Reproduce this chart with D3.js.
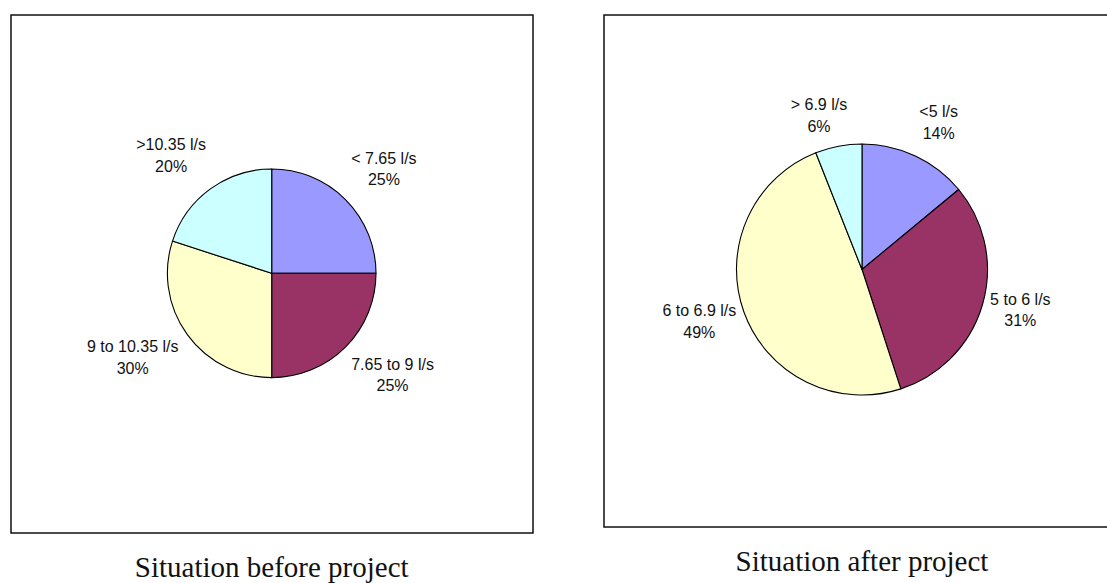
<!DOCTYPE html>
<html>
<head>
<meta charset="utf-8">
<script src="https://cdn.jsdelivr.net/npm/d3@7"></script>
<style>
  html, body { margin: 0; padding: 0; background: #ffffff; }
  svg { display: block; }
</style>
</head>
<body>
<svg id="chart" width="1107" height="583"></svg>
<script>
// Flow-rate distribution before and after the project
const beforeCategories = ["< 7.65 l/s", "7.65 to 9 l/s", "9 to 10.35 l/s", ">10.35 l/s"];
const beforeValues = [25, 25, 30, 20];

const afterCategories = ["<5 l/s", "5 to 6 l/s", "6 to 6.9 l/s", "> 6.9 l/s"];
const afterValues = [14, 31, 49, 6];

const sliceColors = ["#9999FF", "#993366", "#FFFFCC", "#CCFFFF"];
const titles = ["Situation before project", "Situation after project"];

const svg = d3.select("#chart");

// layout of the two panels; labelShift fine-tunes each data label around its slice
const panels = [
  { categories: beforeCategories, values: beforeValues, title: titles[0],
    box: { x: 11, y: 15, w: 522, h: 518 }, cx: 271.7, cy: 273.3, r: 104.3, labelR: 126, titleY: 577,
    labelShift: [[0, -3], [2.5, 0.5], [0, 0], [-6, -2]] },
  { categories: afterCategories, values: afterValues, title: titles[1],
    box: { x: 604, y: 15, w: 510, h: 512 }, cx: 862, cy: 269.5, r: 125.5, labelR: 136, titleY: 571,
    labelShift: [[10.5, -8.5], [-1.3, -2.2], [0, 0], [-12.3, -3.4]] }
];

const pie = d3.pie().sort(null).value(d => d.value);
const color = d3.scaleOrdinal().range(sliceColors);

const labelFont = "'Liberation Sans', Arial, sans-serif";
const labelSize = 16;
const lineGap = 21.5;

// measure helper for label text widths
const measureCtx = document.createElement("canvas").getContext("2d");
measureCtx.font = `${labelSize}px ${labelFont}`;

panels.forEach(p => {
  const data = p.categories.map((c, i) => ({ category: c, value: p.values[i] }));
  color.domain(p.categories);

  // plot area frame
  svg.append("rect")
    .attr("x", p.box.x).attr("y", p.box.y)
    .attr("width", p.box.w).attr("height", p.box.h)
    .attr("fill", "#ffffff")
    .attr("stroke", "#111111")
    .attr("stroke-width", 1.5);

  const g = svg.append("g").attr("transform", `translate(${p.cx},${p.cy})`);
  const arc = d3.arc().innerRadius(0).outerRadius(p.r);
  const arcs = pie(data);

  g.selectAll("path.slice")
    .data(arcs)
    .enter().append("path")
    .attr("class", "slice")
    .attr("d", arc)
    .attr("fill", d => color(d.data.category))
    .attr("stroke", "#000000")
    .attr("stroke-width", 1.1)
    .attr("stroke-linejoin", "round");

  // data labels: category and share, placed outside each slice
  const total = d3.sum(data, d => d.value);
  arcs.forEach((d, i) => {
    const mid = (d.startAngle + d.endAngle) / 2;
    const s = Math.sin(mid), c = Math.cos(mid);
    const pct = Math.round(d.data.value / total * 100) + "%";
    const halfW = Math.max(measureCtx.measureText(d.data.category).width,
                           measureCtx.measureText(pct).width) / 2;
    const halfH = lineGap / 2 + labelSize * 0.4;
    const lx = p.labelR * s + halfW * s + p.labelShift[i][0];
    const ly = -p.labelR * c - halfH * c + p.labelShift[i][1];

    const t = g.append("text")
      .attr("font-family", labelFont)
      .attr("font-size", labelSize)
      .attr("fill", "#111111")
      .attr("text-anchor", "middle");
    t.append("tspan")
      .attr("x", lx).attr("y", ly - lineGap / 2)
      .attr("dominant-baseline", "central")
      .text(d.data.category);
    t.append("tspan")
      .attr("x", lx).attr("y", ly + lineGap / 2)
      .attr("dominant-baseline", "central")
      .text(pct);
  });

  svg.append("text")
    .attr("x", p.cx)
    .attr("y", p.titleY)
    .attr("text-anchor", "middle")
    .attr("font-family", "'Liberation Serif', 'Times New Roman', serif")
    .attr("font-size", 29)
    .attr("fill", "#111111")
    .text(p.title);
});
</script>
</body>
</html>
